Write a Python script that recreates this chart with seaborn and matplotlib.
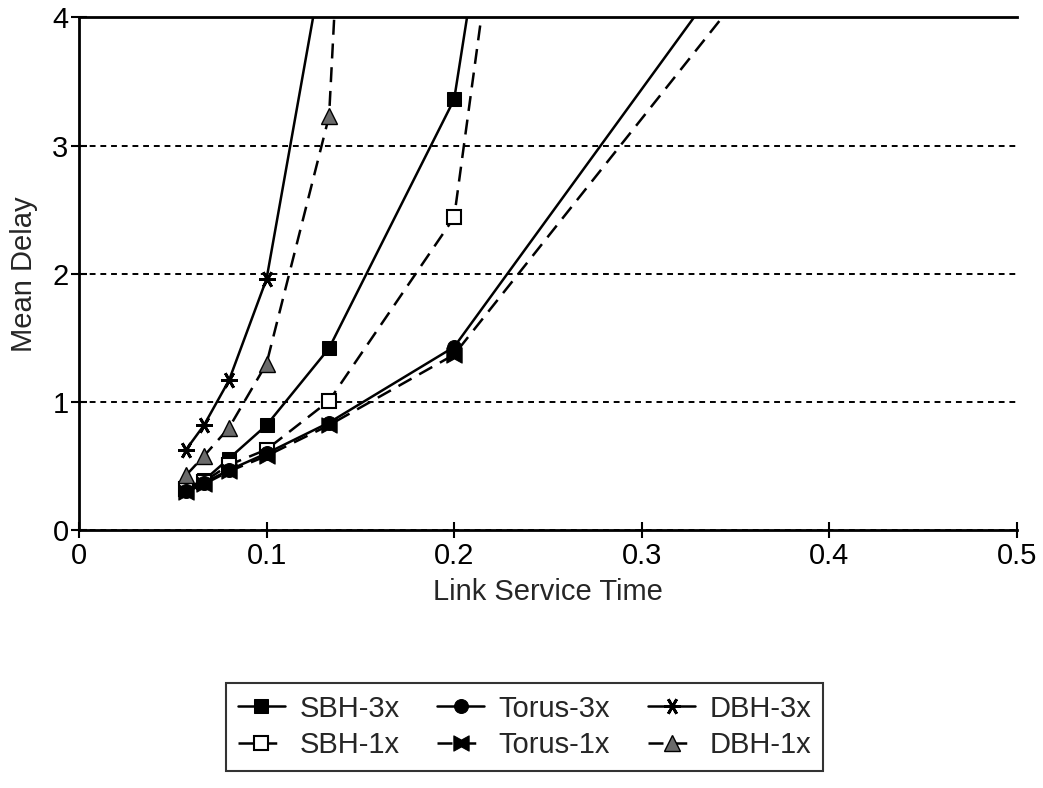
import numpy as np
import pandas as pd
import matplotlib
matplotlib.use("Agg")
import matplotlib.pyplot as plt
from matplotlib.path import Path
from matplotlib.ticker import FixedLocator, FixedFormatter
import seaborn as sns

# Link service times (1/17.5, 1/15, 1/12.5, 1/10, 1/7.5, 1/5, 1/2.5)
service_time = [1 / 17.5, 1 / 15, 1 / 12.5, 0.1, 1 / 7.5, 0.2, 0.4]

sbh_3x = [0.33, 0.39, 0.56, 0.82, 1.42, 3.36, 22.0]
sbh_1x = [0.32, 0.38, 0.51, 0.63, 1.01, 2.44, 24.0]
torus_3x = [0.31, 0.37, 0.47, 0.60, 0.84, 1.43, 5.45]
torus_1x = [0.30, 0.36, 0.46, 0.58, 0.82, 1.37, 5.05]
dbh_3x = [0.63, 0.82, 1.17, 1.96, 4.7]
dbh_1x = [0.43, 0.58, 0.80, 1.30, 3.23, 22.0]

series_names = ["SBH-3x", "SBH-1x", "Torus-3x", "Torus-1x", "DBH-3x", "DBH-1x"]
series_values = [sbh_3x, sbh_1x, torus_3x, torus_1x, dbh_3x, dbh_1x]

x_ticks = [0, 0.1, 0.2, 0.3, 0.4, 0.5]
x_tick_labels = ["0", "0.1", "0.2", "0.3", "0.4", "0.5"]
y_ticks = [0, 1, 2, 3, 4]
y_tick_labels = ["0", "1", "2", "3", "4"]

rows = []
for name, vals in zip(series_names, series_values):
    for x, y in zip(service_time, vals):
        rows.append({"series": name, "time": x, "delay": y})
df = pd.DataFrame(rows)

sns.set_style("ticks")
plt.rcParams["font.family"] = ["Liberation Sans", "DejaVu Sans"]
plt.rcParams["font.size"] = 20

# hourglass marker for the Torus-1x curve
bowtie = Path([(-1, -1), (-1, 1), (0, 0.45), (1, 1), (1, -1), (0, -0.45), (-1, -1)],
              [Path.MOVETO] + [Path.LINETO] * 5 + [Path.CLOSEPOLY])

dash = (0, (6, 3.5))
styles = {
    "SBH-3x": dict(linestyle="-", marker="s", markersize=10, mfc="black", mec="black"),
    "SBH-1x": dict(linestyle=dash, marker="s", markersize=10, mfc="white", mec="black", mew=1.5),
    "Torus-3x": dict(linestyle="-", marker="o", markersize=10, mfc="black", mec="black"),
    "Torus-1x": dict(linestyle=dash, marker=bowtie, markersize=11, mfc="black", mec="black"),
    "DBH-3x": dict(linestyle="-", marker=(6, 2, 90), markersize=12, mfc="black", mec="black", mew=2),
    "DBH-1x": dict(linestyle=dash, marker="^", markersize=12, mfc="#6a6a6a", mec="black", mew=1),
}

fig = plt.figure(figsize=(10.43, 7.88), dpi=100)
ax = fig.add_axes([0.0757, 0.327, 0.8993, 0.651])

for name in series_names:
    sub = df[df["series"] == name]
    sns.lineplot(data=sub, x="time", y="delay", ax=ax, color="black", linewidth=1.8,
                 label=name, estimator=None, sort=False, **styles[name])

ax.set_xlim(0, 0.5)
ax.set_ylim(0, 4)
ax.xaxis.set_major_locator(FixedLocator(x_ticks))
ax.xaxis.set_major_formatter(FixedFormatter(x_tick_labels))
ax.yaxis.set_major_locator(FixedLocator(y_ticks))
ax.yaxis.set_major_formatter(FixedFormatter(y_tick_labels))
ax.tick_params(axis="both", direction="inout", length=11, width=1.5, colors="black",
               labelsize=21, pad=2)
ax.tick_params(axis="x", pad=3)

ax.grid(axis="y", linestyle=(0, (3, 2.5)), color="black", linewidth=1.4)
ax.grid(axis="x", visible=False)

for side in ["left", "bottom", "top"]:
    ax.spines[side].set_linewidth(2)
    ax.spines[side].set_color("black")
ax.spines["right"].set_visible(False)

ax.set_xlabel("Link Service Time", fontsize=21, labelpad=6)
ax.set_ylabel("Mean Delay", fontsize=21, labelpad=10)

handles, labels = ax.get_legend_handles_labels()
ax.get_legend().remove()
leg = fig.legend(handles, labels,
                 loc="center", bbox_to_anchor=(0.503, 0.0774), ncol=3,
                 frameon=True, fancybox=False, edgecolor="black", fontsize=21,
                 handlelength=1.6, handletextpad=0.5, columnspacing=1.3,
                 labelspacing=0.3, borderpad=0.4)
leg.get_frame().set_linewidth(1.5)

fig.savefig("out.png", dpi=100, facecolor="white")
